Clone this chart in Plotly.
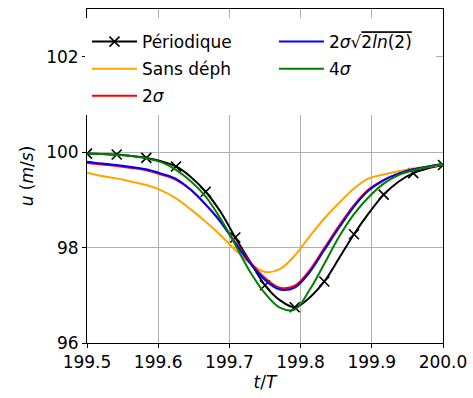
import plotly.graph_objects as go

# time axis (t/T)
t = [199.5, 199.5208, 199.5417, 199.5625, 199.5833, 199.6042, 199.625, 199.6458,
     199.6667, 199.6875, 199.7083, 199.7292, 199.75, 199.7708, 199.7917, 199.8125,
     199.8333, 199.8542, 199.875, 199.8958, 199.9167, 199.9375, 199.9583, 199.9792, 200.0]

u_periodique = [99.97, 99.96, 99.95, 99.92, 99.88, 99.81, 99.70, 99.48, 99.17, 98.75,
                98.21, 97.70, 97.21, 96.90, 96.75, 96.95, 97.29, 97.78, 98.28, 98.72,
                99.11, 99.38, 99.56, 99.66, 99.73]
u_sans_deph = [99.57, 99.50, 99.45, 99.38, 99.31, 99.20, 99.03, 98.80, 98.54, 98.26,
               97.95, 97.67, 97.49, 97.55, 97.83, 98.23, 98.61, 98.94, 99.24, 99.45,
               99.53, 99.60, 99.66, 99.69, 99.74]
u_2sigma = [99.77, 99.74, 99.71, 99.67, 99.62, 99.53, 99.42, 99.21, 98.90, 98.55,
            98.11, 97.70, 97.36, 97.16, 97.20, 97.52, 97.99, 98.46, 98.89, 99.22,
            99.42, 99.55, 99.64, 99.70, 99.75]
u_2sigma_ln = [99.80, 99.76, 99.73, 99.69, 99.64, 99.55, 99.44, 99.21, 98.90, 98.54,
               98.09, 97.67, 97.32, 97.12, 97.16, 97.48, 97.95, 98.42, 98.86, 99.20,
               99.41, 99.55, 99.64, 99.70, 99.75]
u_4sigma = [99.97, 99.96, 99.94, 99.92, 99.87, 99.79, 99.63, 99.39, 99.07, 98.61,
            98.06, 97.49, 97.04, 96.74, 96.70, 97.11, 97.66, 98.23, 98.70, 99.06,
            99.34, 99.52, 99.62, 99.69, 99.75]

x_ticks = [199.5, 199.6, 199.7, 199.8, 199.9, 200.0]
y_ticks = [96, 98, 100, 102]

names = ["Périodique", "Sans déph", "2<i>σ</i>",
         "2<i>σ</i>√<span style='text-decoration:overline'>2<i>ln</i>(2)</span>",
         "4<i>σ</i>"]
colors = ["black", "#FFA500", "#FF0000", "#0000FF", "#008000"]
legend_ids = ["legend", "legend", "legend", "legend2", "legend2"]

FONT = "DejaVu Sans"
fig = go.Figure()

# markers every other point on the periodic curve
mk_cols = ["black" if i % 2 == 0 else "rgba(0,0,0,0)" for i in range(len(t))]
fig.add_trace(go.Scatter(
    x=t, y=u_periodique, name=names[0], mode="lines+markers",
    line=dict(color=colors[0], width=2, shape="spline"),
    marker=dict(symbol="x-thin", size=10, color=mk_cols,
                line=dict(width=1.6, color=mk_cols)),
    legend=legend_ids[0], legendgroup="g0"))

for k, (name, col, yv, lg) in enumerate(zip(names[1:], colors[1:],
                                            [u_sans_deph, u_2sigma, u_2sigma_ln, u_4sigma],
                                            legend_ids[1:]), start=1):
    fig.add_trace(go.Scatter(x=t, y=yv, name=name, mode="lines",
                             line=dict(color=col, width=2, shape="spline"),
                             legend=lg, legendgroup=f"g{k}"))

axis_common = dict(showline=True, linecolor="black", linewidth=1, mirror=True,
                   ticks="outside", ticklen=4, tickcolor="black", tickwidth=1,
                   showgrid=True, gridcolor="#b0b0b0", gridwidth=1, zeroline=False,
                   automargin=False,
                   tickfont=dict(family=FONT, size=17, color="black"))

fig.update_xaxes(range=[199.5, 200.0], tickvals=x_ticks,
                 ticktext=[f"{v:.1f}" for v in x_ticks],
                 title=dict(text="<i>t</i>/<i>T</i>", font=dict(family=FONT, size=17, color="black"),
                            standoff=2),
                 **axis_common)
fig.update_yaxes(range=[96, 103], tickvals=y_ticks,
                 ticktext=[str(v) for v in y_ticks],
                 title=dict(text="<i>u</i> (<i>m</i>/<i>s</i>)", font=dict(family=FONT, size=17, color="black"),
                            standoff=8),
                 **axis_common)

leg_common = dict(yanchor="top", y=0.955, xanchor="left", orientation="v",
                  bgcolor="rgba(0,0,0,0)", borderwidth=0, itemwidth=45,
                  tracegroupgap=2, traceorder="grouped",
                  font=dict(family=FONT, size=17, color="black"))

fig.update_layout(
    width=473, height=398,
    margin=dict(l=87, r=30, t=9, b=55),
    plot_bgcolor="white", paper_bgcolor="white",
    font=dict(family=FONT, size=17, color="black"),
    legend=dict(x=0, **leg_common),
    legend2=dict(x=0.525, **leg_common),
    # white legend background box (drawn over grid and spine, under legends)
    shapes=[dict(type="rect", xref="paper", yref="paper", layer="above",
                 x0=-0.006, x1=0.98, y0=0.683, y1=0.973,
                 fillcolor="white", line=dict(width=0))],
)

fig.write_html("out.html", config={"displayModeBar": False},
               post_script="document.body.style.margin='0';")
